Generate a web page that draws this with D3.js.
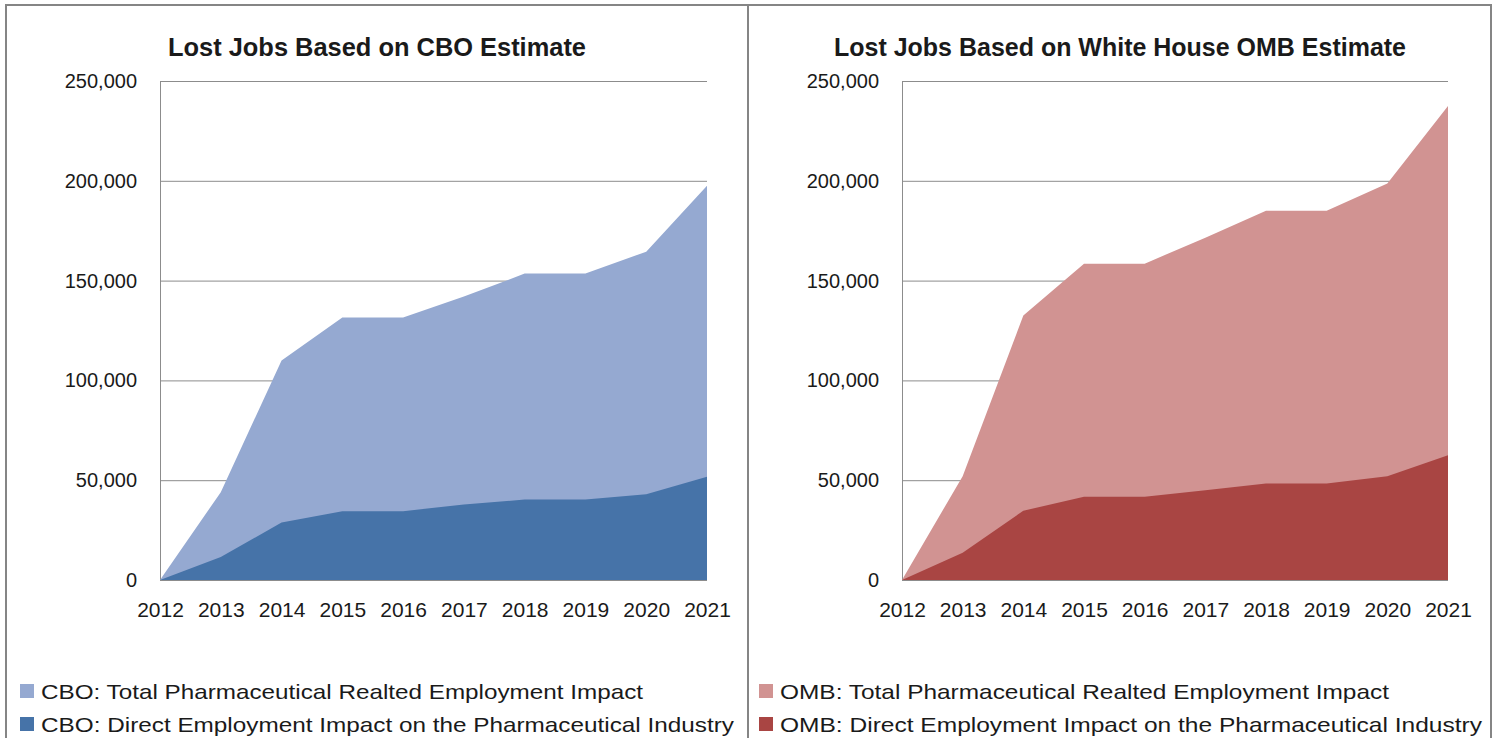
<!DOCTYPE html>
<html>
<head>
<meta charset="utf-8">
<script src="https://cdn.jsdelivr.net/npm/d3@7"></script>
<style>
  body { margin: 0; background: #fff; }
  text { font-family: 'Liberation Sans', Arial, sans-serif; fill: #1a1a1a; }
</style>
</head>
<body>
<div id="chart"></div>
<script>
let years = ['2012', '2013', '2014', '2015', '2016', '2017', '2018', '2019', '2020', '2021']

// overlapping (not stacked) areas: total includes direct
let cboTotal = [0, 44000, 110000, 131500, 131500, 142000, 153500, 153500, 164500, 197500]
let cboDirect = [0, 11500, 28800, 34500, 34500, 37800, 40300, 40300, 43000, 51700]
let ombTotal = [0, 52000, 132500, 158500, 158500, 171500, 185000, 185000, 198700, 237500]
let ombDirect = [0, 13700, 34700, 41700, 41700, 45000, 48300, 48300, 52000, 62500]

let yTicks = [0, 50000, 100000, 150000, 200000, 250000]

let titles = ['Lost Jobs Based on CBO Estimate', 'Lost Jobs Based on White House OMB Estimate']
let legendLabels = [
    ['CBO: Total Pharmaceutical Realted Employment Impact', 'CBO: Direct Employment Impact on the Pharmaceutical Industry'],
    ['OMB: Total Pharmaceutical Realted Employment Impact', 'OMB: Direct Employment Impact on the Pharmaceutical Industry']
]
let colors = [['#95a9d1', '#4673a8'], ['#d19392', '#a94543']]

let svg = d3.select('#chart')
    .append('svg')
    .attr('width', 1502)
    .attr('height', 738)

// frame and divider
svg.append('rect')
    .attr('x', 6).attr('y', 5)
    .attr('width', 1485).attr('height', 760)
    .attr('fill', 'none')
    .attr('stroke', '#858585')
    .attr('stroke-width', 2)
svg.append('line')
    .attr('x1', 748).attr('x2', 748)
    .attr('y1', 5).attr('y2', 738)
    .attr('stroke', '#858585')
    .attr('stroke-width', 2)

let panels = [
    { left: 160, right: 707, titleX: 377, titleW: 418, sqX: 20, txtX: 41, legW: [602, 693], series: [cboTotal, cboDirect] },
    { left: 902, right: 1448, titleX: 1120, titleW: 572, sqX: 759, txtX: 780, legW: [609, 702], series: [ombTotal, ombDirect] }
]

let yScale = d3.scaleLinear()
    .domain([0, 250000])
    .range([580, 81])

panels.forEach((p, k) => {
    let g = svg.append('g')

    let xScale = d3.scalePoint()
        .domain(years)
        .range([p.left, p.right])

    // gridlines + y axis
    let yAxis = d3.axisLeft(yScale)
        .tickValues(yTicks)
        .tickFormat(d3.format(','))
        .tickSize(-(p.right - p.left))
        .tickSizeOuter(0)
        .tickPadding(23)
    let ya = g.append('g')
        .attr('transform', `translate(${p.left},0)`)
        .call(yAxis)
    ya.selectAll('.tick line').attr('stroke', '#8c8c8c')
    ya.select('.domain').attr('stroke', '#8c8c8c')
    ya.selectAll('.tick text')
        .style('font-size', '20px')
        .attr('fill', '#1a1a1a')

    // areas
    let area = d3.area()
        .x((d, i) => xScale(years[i]))
        .y0(yScale(0))
        .y1(d => yScale(d))

    p.series.forEach((s, j) => {
        g.append('path')
            .datum(s)
            .attr('d', area)
            .attr('fill', colors[k][j])
    })

    // x axis
    let xAxis = d3.axisBottom(xScale)
        .tickSize(0)
        .tickPadding(22)
    let xa = g.append('g')
        .attr('transform', `translate(0,${yScale(0)})`)
        .call(xAxis)
    xa.select('.domain').remove()
    xa.selectAll('.tick text')
        .style('font-size', '21px')
        .attr('fill', '#1a1a1a')

    // title
    g.append('text')
        .attr('x', p.titleX - p.titleW / 2)
        .attr('y', 56)
        .attr('textLength', p.titleW)
        .attr('lengthAdjust', 'spacingAndGlyphs')
        .style('font-size', '25px')
        .style('font-weight', 'bold')
        .attr('fill', '#000')
        .text(titles[k])

    // legend
    legendLabels[k].forEach((lab, j) => {
        let yy = 684 + j * 33
        g.append('rect')
            .attr('x', p.sqX).attr('y', yy)
            .attr('width', 14).attr('height', 14)
            .attr('fill', colors[k][j])
        g.append('text')
            .attr('x', p.txtX)
            .attr('y', yy + 15)
            .attr('textLength', p.legW[j])
            .attr('lengthAdjust', 'spacingAndGlyphs')
            .style('font-size', '21px')
            .text(lab)
    })
})
</script>
</body>
</html>
